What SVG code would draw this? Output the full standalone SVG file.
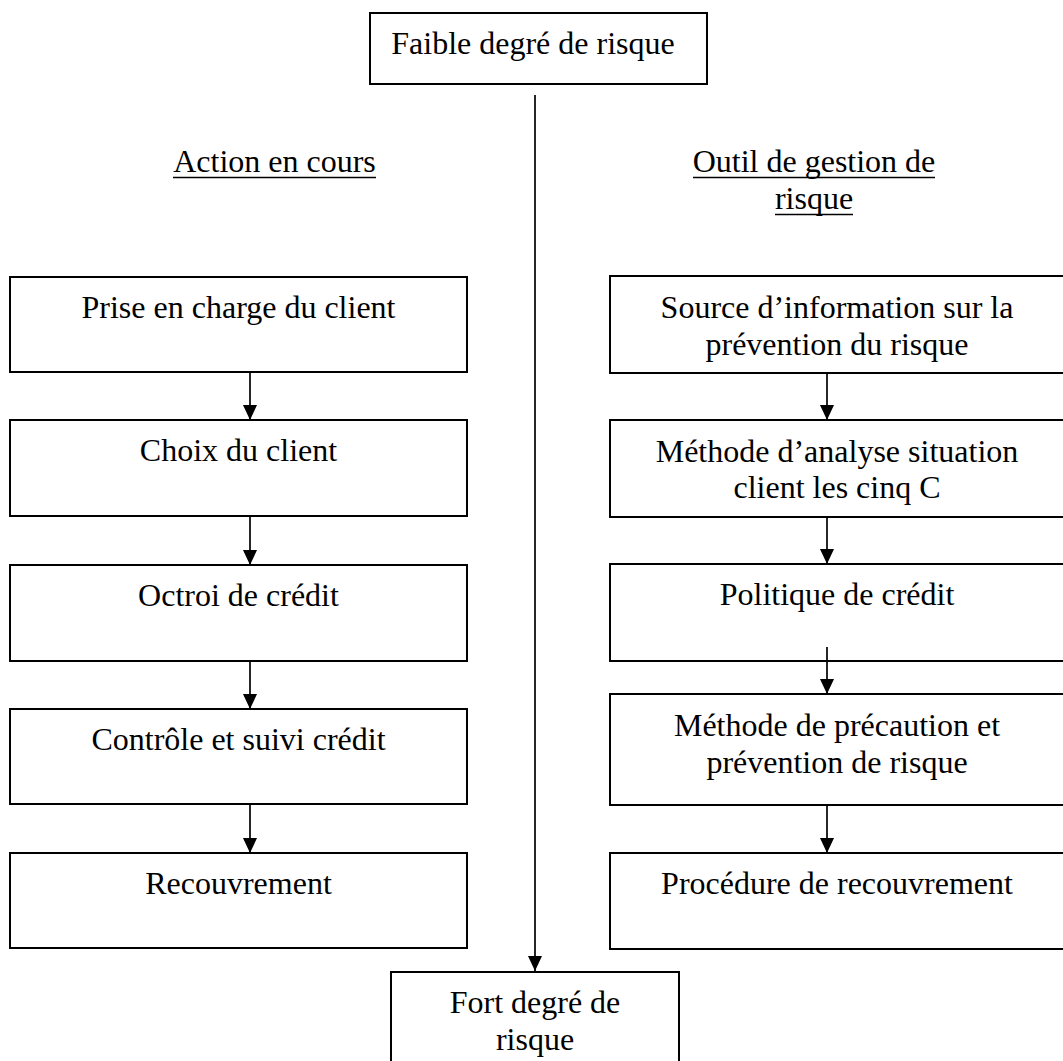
<svg xmlns="http://www.w3.org/2000/svg" width="1063" height="1061" viewBox="0 0 1063 1061">
  <style>
    .box { fill: #ffffff; stroke: #000000; stroke-width: 2; }
    .lbl { font-family: "Liberation Serif", "Times New Roman", serif; font-size: 32px; fill: #000000; text-anchor: middle; }
    .edge { stroke: #000000; stroke-width: 1.7; fill: none; marker-end: url(#arrow); }
    .rule { stroke: #000000; stroke-width: 1.6; }
  </style>
  <defs>
    <marker id="arrow" markerUnits="userSpaceOnUse" markerWidth="15" markerHeight="14" refX="15" refY="7" orient="auto">
      <path d="M0,0 L15,7 L0,14 Z" fill="#000000"/>
    </marker>
  </defs>
  <rect width="1063" height="1061" fill="#ffffff"/>

  <!-- column headings -->
  <g id="heading-actions">
    <text class="lbl" x="274.5" y="172">Action en cours</text>
    <line class="rule" x1="173" y1="177.5" x2="376" y2="177.5"/>
  </g>
  <g id="heading-tools">
    <text class="lbl" x="814" y="172">Outil de gestion de</text>
    <line class="rule" x1="693" y1="177.5" x2="935" y2="177.5"/>
    <text class="lbl" x="814" y="209">risque</text>
    <line class="rule" x1="775" y1="214.5" x2="853" y2="214.5"/>
  </g>

  <!-- ends of the risk scale -->
  <g id="risk-low">
    <rect class="box" x="370" y="13" width="337" height="71"/>
    <text class="lbl" x="533" y="54">Faible degré de risque</text>
  </g>
  <g id="risk-high">
    <rect class="box" x="391" y="972" width="288" height="100"/>
    <text class="lbl" x="535" y="1013">Fort degré de</text>
    <text class="lbl" x="535" y="1050">risque</text>
  </g>

  <!-- actions in progress -->
  <g id="action-1">
    <rect class="box" x="10" y="277" width="457" height="95"/>
    <text class="lbl" x="238.5" y="318">Prise en charge du client</text>
  </g>
  <g id="action-2">
    <rect class="box" x="10" y="420" width="457" height="96"/>
    <text class="lbl" x="238.5" y="461">Choix du client</text>
  </g>
  <g id="action-3">
    <rect class="box" x="10" y="565" width="457" height="96"/>
    <text class="lbl" x="238.5" y="606">Octroi de crédit</text>
  </g>
  <g id="action-4">
    <rect class="box" x="10" y="709" width="457" height="95"/>
    <text class="lbl" x="238.5" y="750">Contrôle et suivi crédit</text>
  </g>
  <g id="action-5">
    <rect class="box" x="10" y="853" width="457" height="95"/>
    <text class="lbl" x="238.5" y="894">Recouvrement</text>
  </g>

  <!-- risk management tools -->
  <g id="tool-1">
    <rect class="box" x="610" y="276" width="455" height="97"/>
    <text class="lbl" x="837" y="318">Source d’information sur la</text>
    <text class="lbl" x="837" y="355">prévention du risque</text>
  </g>
  <g id="tool-2">
    <rect class="box" x="610" y="420" width="455" height="97"/>
    <text class="lbl" x="837" y="462">Méthode d’analyse situation</text>
    <text class="lbl" x="837" y="498">client les cinq C</text>
  </g>
  <g id="tool-3">
    <rect class="box" x="610" y="564" width="455" height="97"/>
    <text class="lbl" x="837" y="605">Politique de crédit</text>
  </g>
  <g id="tool-4">
    <rect class="box" x="610" y="694" width="455" height="111"/>
    <text class="lbl" x="837" y="736">Méthode de précaution et</text>
    <text class="lbl" x="837" y="773">prévention de risque</text>
  </g>
  <g id="tool-5">
    <rect class="box" x="610" y="853" width="455" height="96"/>
    <text class="lbl" x="837" y="894">Procédure de recouvrement</text>
  </g>

  <!-- connectors, drawn last so the one starting inside tool-3 stays visible -->
  <g id="connectors">
    <line class="edge" x1="535" y1="95" x2="535" y2="971"/>
    <line class="edge" x1="250" y1="372" x2="250" y2="420"/>
    <line class="edge" x1="250" y1="516" x2="250" y2="565"/>
    <line class="edge" x1="250" y1="661" x2="250" y2="709"/>
    <line class="edge" x1="250" y1="804" x2="250" y2="853"/>
    <line class="edge" x1="827" y1="373" x2="827" y2="420"/>
    <line class="edge" x1="827" y1="517" x2="827" y2="564"/>
    <line class="edge" x1="827" y1="647" x2="827" y2="694"/>
    <line class="edge" x1="827" y1="805" x2="827" y2="853"/>
  </g>
</svg>
